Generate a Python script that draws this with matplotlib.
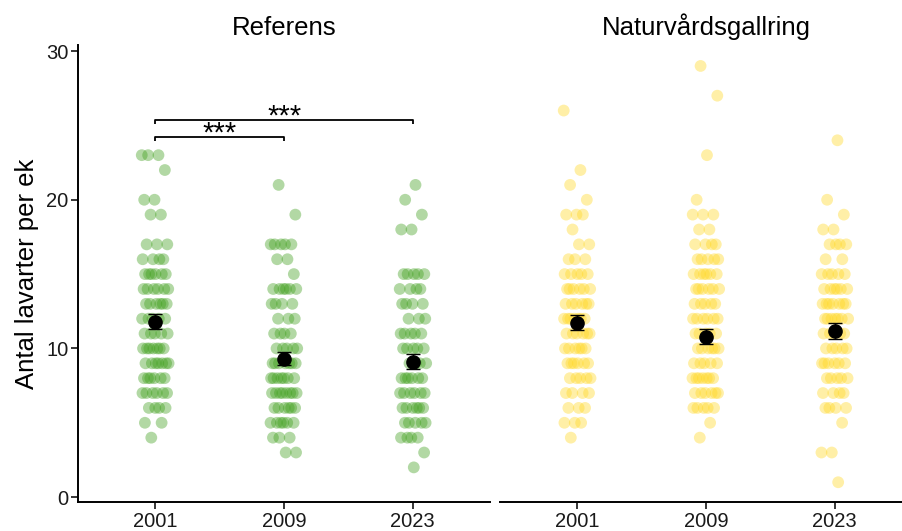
import numpy as np
import matplotlib.pyplot as plt

plt.rcParams['font.family'] = ['Liberation Sans', 'DejaVu Sans']

# Years and panels
years = ['2001', '2009', '2023']
panels = ['Referens', 'Naturvårdsgallring']

# Number of lichen species per oak (value -> count)
ref_2001_values = [23, 22, 20, 19, 17, 16, 15, 14, 13, 12, 11, 10, 9, 8, 7, 6, 5, 4]
ref_2001_counts = [3, 1, 2, 2, 3, 4, 6, 6, 6, 5, 5, 7, 7, 6, 6, 4, 2, 1]
ref_2009_values = [21, 19, 17, 16, 15, 14, 13, 12, 11, 10, 9, 8, 7, 6, 5, 4, 3]
ref_2009_counts = [1, 1, 5, 2, 1, 6, 4, 3, 4, 5, 7, 7, 8, 6, 6, 3, 2]
ref_2023_values = [21, 20, 19, 18, 15, 14, 13, 12, 11, 10, 9, 8, 7, 6, 5, 4, 3, 2]
ref_2023_counts = [1, 1, 1, 2, 5, 4, 4, 3, 5, 5, 4, 6, 6, 6, 5, 4, 1, 1]
nat_2001_values = [26, 22, 21, 20, 19, 18, 17, 16, 15, 14, 13, 12, 11, 10, 9, 8, 7, 6, 5, 4]
nat_2001_counts = [1, 1, 1, 1, 3, 1, 2, 3, 5, 6, 6, 7, 6, 6, 6, 5, 4, 3, 3, 1]
nat_2009_values = [29, 27, 23, 20, 19, 18, 17, 16, 15, 14, 13, 12, 11, 10, 9, 8, 7, 6, 5, 4]
nat_2009_counts = [1, 1, 1, 1, 3, 2, 4, 5, 6, 6, 5, 6, 5, 6, 5, 7, 6, 5, 1, 1]
nat_2023_values = [24, 20, 19, 18, 17, 16, 15, 14, 13, 12, 11, 10, 9, 8, 7, 6, 5, 3, 1]
nat_2023_counts = [1, 1, 1, 2, 4, 2, 5, 6, 7, 7, 5, 5, 6, 5, 4, 4, 1, 2, 1]

# Means and standard errors (black points)
ref_means = [11.8, 9.3, 9.1]
ref_se = [0.5, 0.43, 0.5]
nat_means = [11.73, 10.8, 11.17]
nat_se = [0.5, 0.5, 0.55]

ref_groups = [(ref_2001_values, ref_2001_counts),
              (ref_2009_values, ref_2009_counts),
              (ref_2023_values, ref_2023_counts)]
nat_groups = [(nat_2001_values, nat_2001_counts),
              (nat_2009_values, nat_2009_counts),
              (nat_2023_values, nat_2023_counts)]

green = '#3f9f1c'
yellow = '#ffd823'

fig = plt.figure(figsize=(9.02, 5.31), dpi=100)
ax1 = fig.add_axes([0.0865, 0.054, 0.4568, 0.861])
ax2 = fig.add_axes([0.5543, 0.054, 0.4568, 0.861], sharey=ax1)


def draw_panel(ax, groups, means, se, color, title):
    for i, (vals, cnts) in enumerate(groups):
        y = np.repeat(vals, cnts)
        # spread points horizontally (golden ratio sequence, not random)
        k = np.arange(len(y))
        offs = ((k * 0.6180339887 + 0.3 * i) % 1 - 0.5) * 0.21
        ax.scatter(i + 1 + offs, y, s=72, color=color, alpha=0.4,
                   edgecolors='none', zorder=2)
    ax.errorbar(np.arange(1, 4), means, yerr=se, fmt='o', color='black',
                ms=9.5, capsize=4.8, elinewidth=1, capthick=1, zorder=3)
    ax.set_xlim(0.4, 3.6)
    ax.set_xticks([1, 2, 3])
    ax.set_xticklabels(years)
    ax.set_title(title, fontsize=18.5, pad=7)
    for s in ['top', 'right']:
        ax.spines[s].set_visible(False)
    ax.spines['bottom'].set_linewidth(1.4)
    ax.spines['left'].set_linewidth(1.4)
    ax.tick_params(axis='both', labelsize=14.5, length=5, width=1.1,
                   colors='black', labelcolor='#1a1a1a', pad=2)


draw_panel(ax1, ref_groups, ref_means, ref_se, green, panels[0])
draw_panel(ax2, nat_groups, nat_means, nat_se, yellow, panels[1])

ax1.set_ylim(-0.35, 30.4)
ax1.set_yticks([0, 10, 20, 30])
ax1.set_ylabel('Antal lavarter per ek', fontsize=18.5, labelpad=5)

ax2.spines['left'].set_visible(False)
ax2.tick_params(axis='y', left=False, labelleft=False)

# Significance brackets
brackets = [(1, 2, 24.2), (1, 3, 25.35)]
for x0, x1, yb in brackets:
    ax1.plot([x0, x0, x1, x1], [yb - 0.28, yb, yb, yb - 0.28], color='black',
             lw=1.3, solid_capstyle='butt', zorder=4)
    ax1.text((x0 + x1) / 2, yb - 0.3, '***', ha='center', va='baseline',
             fontsize=21)

fig.savefig('out.png', dpi=100)
